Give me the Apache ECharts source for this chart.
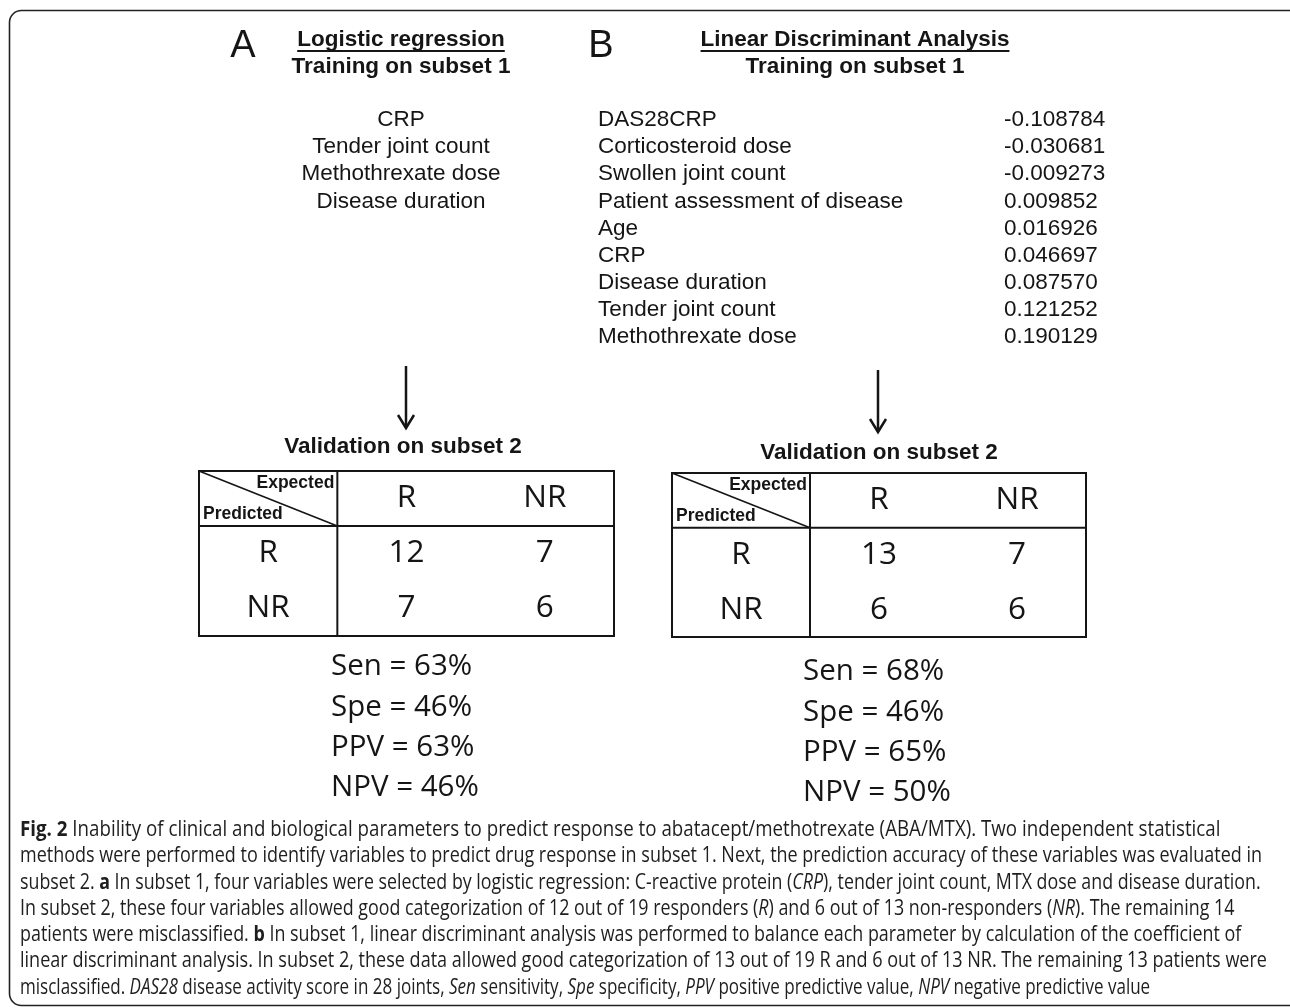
<!DOCTYPE html>
<html>
<head>
<meta charset="utf-8">
<script src="https://cdn.jsdelivr.net/npm/echarts@6/dist/echarts.min.js"></script>
<style>
html,body{margin:0;padding:0;background:#fff;}
#main{width:1290px;height:1008px;}
</style>
</head>
<body>
<div id="main"></div>
<script>
// ---------------- data ----------------
const panelLetters = ['A', 'B'];
const methodTitles = ['Logistic regression', 'Linear Discriminant Analysis'];
const trainingLabel = 'Training on subset 1';
const validationLabel = 'Validation on subset 2';
const logisticVariables = ['CRP', 'Tender joint count', 'Methothrexate dose', 'Disease duration'];
const ldaVariables = ['DAS28CRP', 'Corticosteroid dose', 'Swollen joint count', 'Patient assessment of disease',
  'Age', 'CRP', 'Disease duration', 'Tender joint count', 'Methothrexate dose'];
const ldaCoefficients = ['-0.108784', '-0.030681', '-0.009273', '0.009852', '0.016926', '0.046697',
  '0.087570', '0.121252', '0.190129'];
const classes = ['R', 'NR'];
// rows = predicted, columns = expected
const matrixA = [[12, 7], [7, 6]];
const matrixB = [[13, 7], [6, 6]];
const statNames = ['Sen', 'Spe', 'PPV', 'NPV'];
const statsA = [63, 46, 63, 46];
const statsB = [68, 46, 65, 50];
const captionLines = [
  '{b|Fig. 2} Inability of clinical and biological parameters to predict response to abatacept/methotrexate (ABA/MTX). Two independent statistical',
  'methods were performed to identify variables to predict drug response in subset 1. Next, the prediction accuracy of these variables was evaluated in',
  'subset 2. {b|a} In subset 1, four variables were selected by logistic regression: C-reactive protein ({i|CRP}), tender joint count, MTX dose and disease duration.',
  'In subset 2, these four variables allowed good categorization of 12 out of 19 responders ({i|R}) and 6 out of 13 non-responders ({i|NR}). The remaining 14',
  'patients were misclassified. {b|b} In subset 1, linear discriminant analysis was performed to balance each parameter by calculation of the coefficient of',
  'linear discriminant analysis. In subset 2, these data allowed good categorization of 13 out of 19 R and 6 out of 13 NR. The remaining 13 patients were',
  'misclassified. {i|DAS28} disease activity score in 28 joints, {i|Sen} sensitivity, {i|Spe} specificity, {i|PPV} positive predictive value, {i|NPV} negative predictive value'
];

// ---------------- layout ----------------
const ARIAL = '"Liberation Sans", Arial, sans-serif';
const OPEN = '"Open Sans", sans-serif';
const INK = '#151515';
const HEAD = 'head';
const cats = [HEAD].concat(classes);
const grids = [
  {left: 199, top: 471, width: 415, height: 165},
  {left: 672, top: 473, width: 414, height: 164}
];
// right ends of the caption lines in the reference (layout only)
const captionRightEdges = [1218, 1262, 1262, 1237, 1241, 1267, 1163];

const mctx = document.createElement('canvas').getContext('2d');
function measure(text, font) { mctx.font = font; return mctx.measureText(text).width; }

function matrixData(m) {
  const d = [];
  classes.forEach((c) => { d.push([c, HEAD, c]); d.push([HEAD, c, c]); });
  classes.forEach((pred, i) => classes.forEach((exp, j) => d.push([exp, pred, m[i][j]])));
  return d;
}

const xAxes = [], yAxes = [], series = [];
[matrixA, matrixB].forEach((m, gi) => {
  const axisBase = {
    gridIndex: gi, type: 'category', data: cats,
    axisLine: {show: false}, axisTick: {show: false}, axisLabel: {show: false}, splitLine: {show: false}
  };
  xAxes.push(Object.assign({}, axisBase));
  yAxes.push(Object.assign({inverse: true}, axisBase));
  series.push({
    type: 'scatter', xAxisIndex: gi, yAxisIndex: gi, symbolSize: 0, silent: true,
    itemStyle: {color: INK, opacity: 1},
    data: matrixData(m),
    label: {show: true, position: 'inside', formatter: (p) => String(p.value[2]),
      fontFamily: OPEN, fontSize: 31.5, color: INK, textBorderWidth: 0, textShadowBlur: 0, opacity: 1}
  });
});

const graphics = [];
function txt(x, y, text, o) {
  graphics.push({type: 'text', x: x, y: y, silent: true,
    style: Object.assign({text: text, fill: INK, font: '22.5px ' + ARIAL, textAlign: 'center', textVerticalAlign: 'middle'}, o || {})});
}
function line(x1, y1, x2, y2, w) {
  graphics.push({type: 'line', silent: true, shape: {x1, y1, x2, y2}, style: {stroke: INK, lineWidth: w || 2}});
}

// frame
graphics.push({type: 'rect', silent: true, shape: {x: 9.5, y: 10.5, width: 1300, height: 995, r: 12},
  style: {fill: 'none', stroke: '#222', lineWidth: 1.6}});

// panel headers
const headCx = [401, 855];
const letterCx = [243, 601];
const boldF = 'bold 22.5px ' + ARIAL;
panelLetters.forEach((L, i) => {
  txt(letterCx[i], 47, L, {font: '38px ' + ARIAL});
  txt(headCx[i], 40, methodTitles[i], {font: boldF});
  const w = measure(methodTitles[i], boldF);
  line(headCx[i] - w / 2, 51, headCx[i] + w / 2, 51, 2);
  txt(headCx[i], 67, trainingLabel, {font: boldF});
});

// variable lists
const listF = '22.5px ' + ARIAL;
logisticVariables.forEach((v, i) => txt(401, 120 + i * 27.1, v, {font: listF}));
ldaVariables.forEach((v, i) => {
  txt(598, 120 + i * 27.1, v, {font: listF, textAlign: 'left'});
  txt(1004, 120 + i * 27.1, ldaCoefficients[i], {font: listF, textAlign: 'left'});
});

// arrows
[[406, 366, 428], [878, 370, 432]].forEach(([x, y1, y2]) => {
  line(x, y1, x, y2, 2.5);
  graphics.push({type: 'polyline', silent: true, shape: {points: [[x - 8, y2 - 13], [x, y2], [x + 8, y2 - 13]]},
    style: {stroke: INK, lineWidth: 2.5, fill: 'none'}});
});

// validation titles
txt(403, 447, validationLabel, {font: boldF});
txt(879, 453, validationLabel, {font: boldF});

// matrix dividers and header cells
grids.forEach((g) => {
  const cw = g.width / 3, ch = g.height / 3;
  line(g.left + cw, g.top, g.left + cw, g.top + g.height, 2);
  line(g.left, g.top + ch, g.left + g.width, g.top + ch, 2);
  line(g.left, g.top, g.left + cw, g.top + ch, 1.6);
  txt(g.left + cw - 3, g.top + 12, 'Expected', {font: 'bold 17.5px ' + ARIAL, textAlign: 'right'});
  txt(g.left + 4, g.top + 43, 'Predicted', {font: 'bold 17.5px ' + ARIAL, textAlign: 'left'});
});

// statistics
[[statsA, 331, 667], [statsB, 803, 672]].forEach(([vals, x, y0]) => {
  vals.forEach((v, i) => txt(x, y0 + i * 40.3, statNames[i] + ' = ' + v + '%', {font: '29.5px ' + OPEN, textAlign: 'left'}));
});

// caption: Open Sans, horizontally condensed so that each line ends where the reference line ends
const capSize = 21;
captionLines.forEach((ln, i) => {
  const plain = ln.replace(/\{[bi]\|([^}]*)\}/g, '$1');
  const scale = (captionRightEdges[i] - 20) / measure(plain, capSize + 'px ' + OPEN);
  graphics.push({type: 'text', x: 20, y: 830 + i * 26.3, scaleX: scale, silent: true,
    style: {text: ln, fill: '#1e1e1e', font: capSize + 'px ' + OPEN, textAlign: 'left', textVerticalAlign: 'middle',
      rich: {
        b: {fontWeight: 'bold', fontSize: capSize, fontFamily: OPEN, fill: '#1e1e1e'},
        i: {fontStyle: 'italic', fontSize: capSize, fontFamily: OPEN, fill: '#1e1e1e'}
      }}});
});

const chart = echarts.init(document.getElementById('main'));
chart.setOption({
  backgroundColor: '#fff',
  animation: false,
  grid: grids.map((g) => Object.assign({show: true, borderColor: INK, borderWidth: 2, backgroundColor: 'transparent'}, g)),
  xAxis: xAxes,
  yAxis: yAxes,
  series: series,
  graphic: graphics
});
</script>
</body>
</html>
